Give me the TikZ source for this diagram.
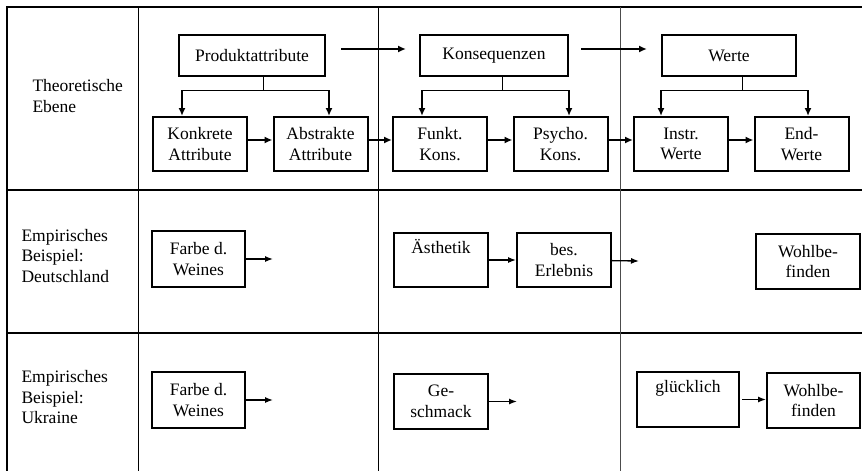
\documentclass[tikz,border=0pt]{standalone}
\usepackage{fontspec}
\setmainfont{Liberation Serif}
\usetikzlibrary{arrows.meta}
\begin{document}
\begin{tikzpicture}[x=1pt,y=-1pt,
	font=\fontsize{17.5}{20.5}\selectfont,
	kasten/.style={draw, line width=2pt, inner sep=0pt, align=center, minimum width=94pt, minimum height=54pt},
	kopf/.style={kasten, minimum height=41pt},
	pfeil/.style={-{Latex[length=8pt,width=7pt]}, line width=2pt},
	pfeilklein/.style={-{Latex[length=8pt,width=6pt]}, line width=1.3pt},
	zeile/.style={line width=2pt},
	spalte/.style={line width=0.9pt}]%
	\useasboundingbox (0,0) rectangle (862,471);
	% Raster
	\draw[zeile] (7,471) -- (7,7) -- (862,7);
	\draw[zeile] (7,190) -- (862,190);
	\draw[zeile] (7,333) -- (862,333);
	\draw[spalte] (138.5,7) -- (138.5,471);
	\draw[spalte] (378,7) -- (378,471);
	\draw[spalte, black!70] (620,7) -- (620,471);
	% Zeilentitel
	\node[anchor=west, align=left] (tth) at (29,96) {Theoretische\\Ebene};
	\node[anchor=west, align=left] (tde) at (18,256) {Empirisches\\Beispiel:\\Deutschland};
	\node[anchor=west, align=left] (tua) at (18,397.5) {Empirisches\\Beispiel:\\Ukraine};
	% Theoretische Ebene
	\node[kopf, minimum width=146pt] (npa) at (252,55.5) {Produktattribute};
	\node[kopf, minimum width=148pt] (nko) at (494,55.5) {Konsequenzen};
	\node[kopf, minimum width=134pt] (nwe) at (729,55.5) {Werte};
	\node[kasten] (nka) at (200,144) {Konkrete\\Attribute};
	\node[kasten] (naa) at (320.5,144) {Abstrakte\\Attribute};
	\node[kasten] (nfk) at (440,144) {Funkt.\\Kons.};
	\node[kasten] (npk) at (560.5,144) {Psycho.\\Kons.};
	\node[kasten] (niw) at (681,144) {Instr.\\Werte};
	\node[kasten] (new) at (801.5,144) {End-\\Werte};
	\draw[pfeil, shorten <=15pt, shorten >=13pt] ([yshift=6.5pt]npa.east) -- ([yshift=6.5pt]nko.west);
	\draw[pfeil, shorten <=12pt, shorten >=14pt] ([yshift=6.5pt]nko.east) -- ([yshift=6.5pt]nwe.west);
	\coordinate (pal) at (182,90);
	\coordinate (par) at (329,90);
	\coordinate (kol) at (422,90);
	\coordinate (kor) at (569,90);
	\coordinate (wel) at (661,90);
	\coordinate (wer) at (808,90);
	\draw (pal) -- (par) (kol) -- (kor) (wel) -- (wer);
	\draw ([xshift=11pt]npa.south) -- ([xshift=11pt]npa.south |- pal);
	\draw ([xshift=8pt]nko.south) -- ([xshift=8pt]nko.south |- kol);
	\draw ([xshift=13pt]nwe.south) -- ([xshift=13pt]nwe.south |- wel);
	\draw[pfeil] (pal) -- (pal |- nka.north);
	\draw[pfeil] (par) -- (par |- naa.north);
	\draw[pfeil] (kol) -- (kol |- nfk.north);
	\draw[pfeil] (kor) -- (kor |- npk.north);
	\draw[pfeil] (wel) -- (wel |- niw.north);
	\draw[pfeil] (wer) -- (wer |- new.north);
	\draw[pfeil] ([yshift=4pt]nka.east) -- ([yshift=4pt]naa.west);
	\draw[pfeil] ([yshift=4pt]naa.east) -- ([yshift=4pt]nfk.west);
	\draw[pfeil] ([yshift=4pt]nfk.east) -- ([yshift=4pt]npk.west);
	\draw[pfeil] ([yshift=4pt]npk.east) -- ([yshift=4pt]niw.west);
	\draw[pfeil] ([yshift=4pt]niw.east) -- ([yshift=4pt]new.west);
	% Deutschland
	\node[kasten, minimum width=93pt, minimum height=56pt] (nfd) at (198.5,259) {Farbe d.\\Weines};
	\node[kasten] (nae) at (441,260) {Ästhetik\\\strut};
	\node[kasten] (nbe) at (564,260) {bes.\\Erlebnis};
	\node[kasten, minimum width=104pt, minimum height=55pt] (nwd) at (808,261.5) {Wohlbe-\\finden};
	\coordinate (efd) at (273,259);
	\coordinate (ebe) at (639,261);
	\draw[pfeilklein] (nfd) -- (efd);
	\draw[pfeilklein] (nae) -- (nbe);
	\draw[pfeilklein] (nbe) -- (ebe);
	% Ukraine
	\node[kasten, minimum width=93pt, minimum height=56pt] (nfu) at (198.5,400) {Farbe d.\\Weines};
	\node[kasten, minimum height=55pt] (nge) at (441,401.5) {Ge-\\schmack};
	\node[kasten, minimum width=102pt, minimum height=55pt] (ngl) at (688,399.5) {glücklich\\\strut};
	\node[kasten, minimum width=93pt, minimum height=55pt] (nwu) at (813.5,400.5) {Wohlbe-\\finden};
	\coordinate (efu) at (273,400);
	\coordinate (ege) at (517,401.5);
	\draw[pfeilklein] (nfu) -- (efu);
	\draw[pfeilklein] (nge) -- (ege);
	\draw[pfeilklein, shorten <=2pt] (ngl.east) -- (ngl.east -| nwu.west);
\end{tikzpicture}
\end{document}
